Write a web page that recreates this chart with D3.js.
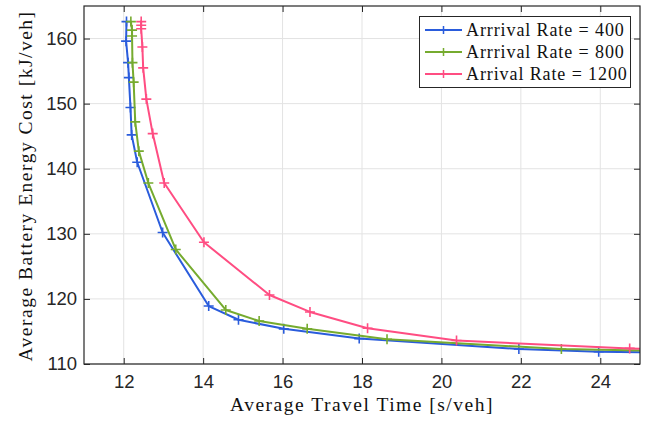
<!DOCTYPE html>
<html><head><meta charset="utf-8">
<script src="https://cdn.jsdelivr.net/npm/d3@7"></script>
<style>body{margin:0;background:#fff}svg{display:block}</style>
</head><body>
<svg id="c" width="657" height="428"></svg>
<script>
const seriesNames = ["Arrrival Rate = 400", "Arrrival Rate = 800", "Arrival Rate = 1200"];
const seriesColors = ["#2a5cdc", "#76ab2f", "#ff4d82"];
const time400 = [12.07, 12.06, 12.11, 12.13, 12.17, 12.20, 12.34, 12.98, 14.14, 14.89, 16.03, 17.93, 21.95, 23.96, 26.5];
const energy400 = [162.6, 159.6, 156.3, 154.0, 149.4, 145.2, 141.0, 130.2, 118.9, 116.8, 115.4, 113.9, 112.3, 111.9, 111.7];
const time800 = [12.18, 12.21, 12.21, 12.22, 12.25, 12.29, 12.38, 12.62, 13.31, 14.57, 15.41, 16.62, 18.63, 23.02, 26.5];
const energy800 = [162.6, 161.3, 160.4, 156.3, 153.3, 147.2, 142.7, 137.8, 127.6, 118.3, 116.6, 115.4, 113.8, 112.3, 111.9];
const time1200 = [12.44, 12.44, 12.44, 12.47, 12.49, 12.57, 12.73, 13.02, 14.02, 15.67, 16.69, 18.14, 20.38, 24.74, 26.5];
const energy1200 = [162.6, 162.05, 161.5, 158.7, 155.5, 150.7, 145.4, 137.8, 128.7, 120.6, 118.0, 115.5, 113.6, 112.4, 112.1];
const xTicks = [12, 14, 16, 18, 20, 22, 24];
const yTicks = [110, 120, 130, 140, 150, 160];
const xDomain = [11, 25];
const yDomain = [110, 165];
const xLabel = "Average Travel Time [s/veh]";
const yLabel = "Average Battery Energy Cost [kJ/veh]";

const series = [
  {name: seriesNames[0], color: seriesColors[0], xs: time400, ys: energy400},
  {name: seriesNames[1], color: seriesColors[1], xs: time800, ys: energy800},
  {name: seriesNames[2], color: seriesColors[2], xs: time1200, ys: energy1200}
];

const L = 84, R = 640, T = 6, B = 364;
const svg = d3.select("#c");
const x = d3.scaleLinear().domain(xDomain).range([L, R]);
const y = d3.scaleLinear().domain(yDomain).range([B, T]);
const axisColor = "#262626";
const tickFont = "'Liberation Sans', Arial, sans-serif";
const serif = "'Liberation Serif', 'Times New Roman', serif";

// grid
const g = svg.append("g");
g.selectAll("line.gx").data(xTicks).join("line")
  .attr("x1", d => x(d)).attr("x2", d => x(d)).attr("y1", T).attr("y2", B)
  .attr("stroke", "#e3e3e3").attr("stroke-width", 1);
g.selectAll("line.gy").data(yTicks).join("line")
  .attr("y1", d => y(d)).attr("y2", d => y(d)).attr("x1", L).attr("x2", R)
  .attr("stroke", "#e3e3e3").attr("stroke-width", 1);

// data
svg.append("defs").append("clipPath").attr("id", "clip")
  .append("rect").attr("x", L).attr("y", T).attr("width", R - L).attr("height", B - T);
const plot = svg.append("g").attr("clip-path", "url(#clip)");
const line = d3.line().x(d => x(d[0])).y(d => y(d[1]));
const ms = 5;
series.forEach(s => {
  const pts = s.xs.map((v, i) => [v, s.ys[i]]);
  plot.append("path").datum(pts).attr("d", line).attr("fill", "none")
    .attr("stroke", s.color).attr("stroke-width", 2).attr("stroke-linejoin", "round");
  const m = plot.append("g");
  m.selectAll("path").data(pts).join("path")
    .attr("d", d => `M${x(d[0]) - ms},${y(d[1])}H${x(d[0]) + ms}M${x(d[0])},${y(d[1]) - ms}V${y(d[1]) + ms}`)
    .attr("stroke", s.color).attr("stroke-width", 1.6);
});

// axes (box with inward ticks)
const tl = 6;
const axB = svg.append("g").attr("transform", `translate(0,${B})`)
  .call(d3.axisBottom(x).tickValues(xTicks).tickSizeInner(-tl).tickSizeOuter(0).tickPadding(11));
const axT = svg.append("g").attr("transform", `translate(0,${T})`)
  .call(d3.axisTop(x).tickValues(xTicks).tickSizeInner(-tl).tickSizeOuter(0).tickFormat(""));
const axL = svg.append("g").attr("transform", `translate(${L},0)`)
  .call(d3.axisLeft(y).tickValues(yTicks).tickSizeInner(-tl).tickSizeOuter(0).tickPadding(7));
const axR = svg.append("g").attr("transform", `translate(${R},0)`)
  .call(d3.axisRight(y).tickValues(yTicks).tickSizeInner(-tl).tickSizeOuter(0).tickFormat(""));
[axB, axT, axL, axR].forEach(a => {
  a.select(".domain").remove();
  a.selectAll(".tick line").attr("stroke", axisColor).attr("stroke-width", 1);
  a.selectAll("text").attr("fill", axisColor).attr("font-family", tickFont).attr("font-size", 18.5);
});
svg.append("rect").attr("x", L).attr("y", T).attr("width", R - L).attr("height", B - T)
  .attr("fill", "none").attr("stroke", axisColor).attr("stroke-width", 1.2);

// axis titles
svg.append("text").attr("x", (L + R) / 2).attr("y", 411).attr("text-anchor", "middle")
  .attr("font-family", serif).attr("font-size", 19.5).attr("letter-spacing", 1.5)
  .attr("fill", "#111").text(xLabel);
svg.append("text").attr("transform", `translate(32,${(T + B) / 2 + 1}) rotate(-90)`)
  .attr("text-anchor", "middle").attr("font-family", serif).attr("font-size", 19.5)
  .attr("letter-spacing", 1.5).attr("fill", "#111").text(yLabel);

// legend
const lg = svg.append("g");
lg.append("rect").attr("x", 419.5).attr("y", 16.5).attr("width", 211).attr("height", 71)
  .attr("fill", "#fff").attr("stroke", axisColor).attr("stroke-width", 1);
const rowY = [30, 52, 74];
series.forEach((s, i) => {
  const yy = rowY[i];
  lg.append("line").attr("x1", 425).attr("x2", 462).attr("y1", yy).attr("y2", yy)
    .attr("stroke", s.color).attr("stroke-width", 2);
  lg.append("path").attr("d", `M${443.5 - 4},${yy}H${443.5 + 4}M${443.5},${yy - 4}V${yy + 4}`)
    .attr("stroke", s.color).attr("stroke-width", 1.5);
  lg.append("text").attr("x", 466).attr("y", yy + 6).attr("font-family", serif)
    .attr("font-size", 18).attr("letter-spacing", 0.9).attr("fill", "#111").text(s.name);
});
</script>
</body></html>
